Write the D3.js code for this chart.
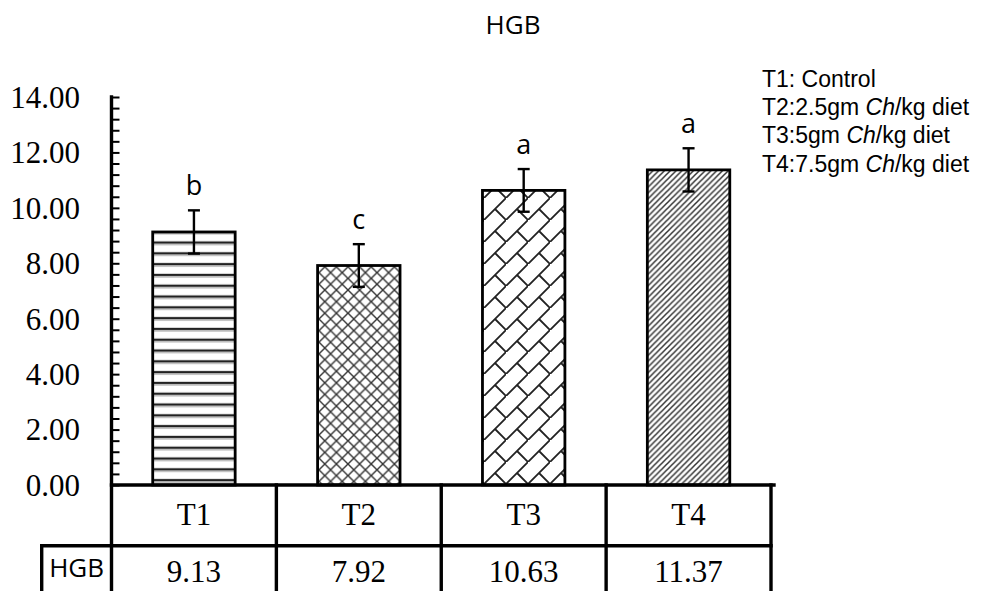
<!DOCTYPE html>
<html>
<head>
<meta charset="utf-8">
<script src="https://cdn.jsdelivr.net/npm/d3@7"></script>
<style>
  html, body { margin: 0; padding: 0; background: #fff; }
  svg { display: block; }
</style>
</head>
<body>
<svg id="chart" width="982" height="591"></svg>
<script>
// ---- data ----
const categories = ["T1", "T2", "T3", "T4"];
const values = [9.13, 7.92, 10.63, 11.37];
const errors = [0.78, 0.77, 0.77, 0.78];
const letters = ["b", "c", "a", "a"];
const yTickValues = [0, 2, 4, 6, 8, 10, 12, 14];
const seriesName = "HGB";
const chartTitle = "HGB";
const legendLines = [
  [{t: "T1: Control"}],
  [{t: "T2:2.5gm "}, {t: "Ch", i: true}, {t: "/kg diet"}],
  [{t: "T3:5gm "}, {t: "Ch", i: true}, {t: "/kg diet"}],
  [{t: "T4:7.5gm "}, {t: "Ch", i: true}, {t: "/kg diet"}]
];

// ---- layout ----
const svg = d3.select("#chart");
const left = 111.5, right = 771, yTop = 97, yBase = 485;
const rowSplit = 545.7, tableLeft = 41.7, bottom = 591;

const y = d3.scaleLinear().domain([0, 14]).range([yBase, yTop]);
const xBars = d3.scaleBand().domain(categories).range([left, right]).paddingInner(0.5).paddingOuter(0.25);
const xCells = d3.scaleBand().domain(categories).range([left, right]).padding(0);

// ---- patterns ----
const defs = svg.append("defs");
// T1 horizontal lines
const p1 = defs.append("pattern").attr("id", "pat0").attr("patternUnits", "userSpaceOnUse")
  .attr("width", 20).attr("height", 10.8);
p1.append("rect").attr("width", 20).attr("height", 10.8).attr("fill", "#fff");
p1.append("line").attr("x1", 0).attr("x2", 20).attr("y1", 5).attr("y2", 5).attr("stroke", "#222").attr("stroke-width", 2.4);
p1.append("line").attr("x1", 0).attr("x2", 20).attr("y1", 7.2).attr("y2", 7.2).attr("stroke", "#bbb").attr("stroke-width", 1);
// T2 diagonal cross
const s2 = 11.6;
const p2 = defs.append("pattern").attr("id", "pat1").attr("patternUnits", "userSpaceOnUse")
  .attr("width", s2).attr("height", s2);
p2.append("rect").attr("width", s2).attr("height", s2).attr("fill", "#fff");
p2.append("path").attr("d", `M0,0L${s2},${s2}M${s2},0L0,${s2}`).attr("stroke", "#333").attr("stroke-width", 1.4);
// T3 diagonal brick
const s3 = 22;
const p3 = defs.append("pattern").attr("id", "pat2").attr("patternUnits", "userSpaceOnUse")
  .attr("width", s3).attr("height", s3);
p3.append("rect").attr("width", s3).attr("height", s3).attr("fill", "#fff");
p3.append("path").attr("d", `M-2,${s3 + 2}L${s3 + 2},-2M${s3 / 2},${s3 / 2}L${s3},${s3}`)
  .attr("stroke", "#222").attr("stroke-width", 1.8);
// T4 fine upward diagonal
const s4 = 5.8;
const p4 = defs.append("pattern").attr("id", "pat3").attr("patternUnits", "userSpaceOnUse")
  .attr("width", s4).attr("height", s4);
p4.append("rect").attr("width", s4).attr("height", s4).attr("fill", "#fff");
p4.append("path").attr("d", `M-1,${s4 + 1}L${s4 + 1},-1M${-s4 / 2},${s4 / 2}L${s4 / 2},${-s4 / 2}M${s4 / 2},${s4 * 1.5}L${s4 * 1.5},${s4 / 2}`)
  .attr("stroke", "#333").attr("stroke-width", 1.5);

// ---- title ----
svg.append("text").attr("x", 513).attr("y", 34).attr("text-anchor", "middle")
  .attr("font-family", "'Open Sans', sans-serif").attr("font-size", 26).attr("fill", "#000")
  .text(chartTitle);

// ---- bars ----
const g = svg.append("g");
g.selectAll("rect.bar").data(categories).join("rect")
  .attr("class", "bar")
  .attr("x", d => xBars(d))
  .attr("y", (d, i) => y(values[i]))
  .attr("width", xBars.bandwidth())
  .attr("height", (d, i) => y(0) - y(values[i]))
  .attr("fill", (d, i) => `url(#pat${i})`)
  .attr("stroke", "#000").attr("stroke-width", 2.8);

// ---- error bars ----
const cx = d => xBars(d) + xBars.bandwidth() / 2;
const eb = g.selectAll("g.err").data(categories).join("g").attr("class", "err");
eb.append("line").attr("x1", cx).attr("x2", cx)
  .attr("y1", (d, i) => y(values[i] + errors[i])).attr("y2", (d, i) => y(values[i] - errors[i]))
  .attr("stroke", "#000").attr("stroke-width", 2.4);
eb.append("line").attr("x1", d => cx(d) - 6).attr("x2", d => cx(d) + 6)
  .attr("y1", (d, i) => y(values[i] + errors[i])).attr("y2", (d, i) => y(values[i] + errors[i]))
  .attr("stroke", "#000").attr("stroke-width", 2.4);
eb.append("line").attr("x1", d => cx(d) - 6).attr("x2", d => cx(d) + 6)
  .attr("y1", (d, i) => y(values[i] - errors[i])).attr("y2", (d, i) => y(values[i] - errors[i]))
  .attr("stroke", "#000").attr("stroke-width", 2.4);

// ---- significance letters ----
g.selectAll("text.sig").data(categories).join("text")
  .attr("class", "sig")
  .attr("x", cx)
  .attr("y", (d, i) => y(values[i] + errors[i]) - 15)
  .attr("text-anchor", "middle")
  .attr("font-family", "'Open Sans', sans-serif").attr("font-size", 27).attr("fill", "#000")
  .text((d, i) => letters[i]);

// ---- y axis ----
const minorTicks = d3.range(0, 14.0001, 0.4);
const axisG = svg.append("g").attr("transform", `translate(${left},0)`)
  .call(d3.axisLeft(y).tickValues(minorTicks).tickSize(-8).tickFormat(""));
axisG.select(".domain").remove();
axisG.selectAll(".tick line").attr("stroke", "#000").attr("stroke-width", 2);

svg.append("g").selectAll("text.ylab").data(yTickValues).join("text")
  .attr("class", "ylab")
  .attr("x", 80).attr("y", d => y(d)).attr("dy", "0.35em")
  .attr("text-anchor", "end")
  .attr("font-family", "'Liberation Serif', 'Times New Roman', serif").attr("font-size", 31).attr("fill", "#000")
  .text(d => d3.format(".2f")(d));

// ---- table / frame lines ----
const lines = svg.append("g").attr("stroke", "#000").attr("stroke-width", 3.4).attr("stroke-linecap", "square");
lines.append("line").attr("x1", left).attr("x2", left).attr("y1", y(14)).attr("y2", bottom);
lines.append("line").attr("x1", left).attr("x2", right + 3).attr("y1", yBase).attr("y2", yBase);
lines.append("line").attr("x1", tableLeft).attr("x2", right).attr("y1", rowSplit).attr("y2", rowSplit);
lines.append("line").attr("x1", tableLeft).attr("x2", tableLeft).attr("y1", rowSplit).attr("y2", bottom);
lines.selectAll("line.cell").data(categories).join("line").attr("class", "cell")
  .attr("x1", d => xCells(d) + xCells.bandwidth()).attr("x2", d => xCells(d) + xCells.bandwidth())
  .attr("y1", yBase).attr("y2", bottom);

// ---- table text ----
const ccx = d => xCells(d) + xCells.bandwidth() / 2;
svg.append("g").selectAll("text.cat").data(categories).join("text")
  .attr("class", "cat").attr("x", ccx).attr("y", 525)
  .attr("text-anchor", "middle")
  .attr("font-family", "'Liberation Serif', 'Times New Roman', serif").attr("font-size", 31).attr("fill", "#000")
  .text(d => d);
svg.append("g").selectAll("text.val").data(categories).join("text")
  .attr("class", "val").attr("x", ccx).attr("y", 582)
  .attr("text-anchor", "middle")
  .attr("font-family", "'Liberation Serif', 'Times New Roman', serif").attr("font-size", 31).attr("fill", "#000")
  .text((d, i) => d3.format(".2f")(values[i]));
svg.append("text").attr("x", (tableLeft + left) / 2).attr("y", 577)
  .attr("text-anchor", "middle")
  .attr("font-family", "'Open Sans', sans-serif").attr("font-size", 26).attr("fill", "#000")
  .text(seriesName);

// ---- legend ----
const lg = svg.append("g").attr("font-family", "'Liberation Sans', Arial, sans-serif").attr("font-size", 23).attr("fill", "#000");
lg.selectAll("text").data(legendLines).join("text")
  .attr("x", 762).attr("y", (d, i) => 86.7 + i * 28.3)
  .each(function(parts) {
    d3.select(this).selectAll("tspan").data(parts).join("tspan")
      .attr("font-style", p => p.i ? "italic" : "normal")
      .text(p => p.t);
  });
</script>
</body>
</html>
